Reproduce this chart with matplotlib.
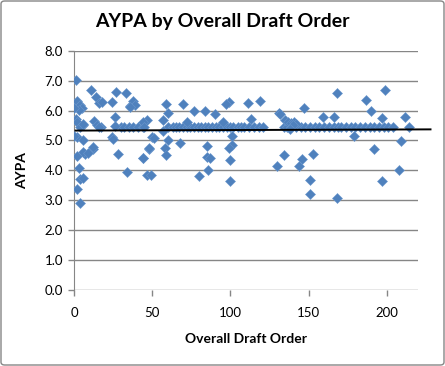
import numpy as np
import matplotlib
matplotlib.use('Agg')
from matplotlib import pyplot as plt
from matplotlib.patches import FancyBboxPatch

plt.rcParams['font.family'] = ['Lato', 'DejaVu Sans']

# scattered picks (draft order, AYPA)
pick_x = [1, 1, 2, 3, 4, 5, 1, 2, 3, 6, 4, 2, 6, 2, 7, 6, 3, 4, 6, 2, 4,
          11, 14, 16, 18, 13, 15, 17, 12, 9, 0, 0, 6, 12, 16,
          24, 27, 26, 26, 24, 25, 28, 33, 36, 38, 39, 34, 44, 48, 47, 36, 47, 50,
          59, 70, 60, 77, 84, 90, 99, 111, 119, 97, 113, 131, 95, 44, 45, 57, 72,
          57, 51, 60, 68, 48, 58, 85, 101, 44, 59, 85, 87, 86, 49, 80, 101, 99, 100,
          134, 130, 100, 168, 147, 159, 166, 179, 153, 146, 144, 151, 151, 168,
          132, 135, 137, 139, 141, 142, 140, 138,
          199, 187, 190, 197, 212, 214, 209, 192, 208, 197]
pick_y = [7.02, 6.25, 6.33, 6.15, 6.20, 6.10, 5.70, 5.62, 6.02, 5.50, 5.45, 5.13, 5.02, 4.47, 4.53, 4.60, 4.09, 3.72, 3.74, 3.39, 2.91,
          6.69, 6.44, 6.24, 6.30, 5.64, 5.52, 5.45, 4.72, 4.58, 6.10, 5.14, 5.55, 4.78, 5.44,
          6.28, 6.61, 5.80, 5.47, 5.10, 5.05, 4.53, 6.59, 6.15, 6.33, 6.20, 3.94, 4.41, 4.70, 3.83, 6.11, 5.67, 5.11,
          6.22, 6.22, 5.91, 5.98, 5.98, 5.90, 6.28, 6.24, 6.31, 6.22, 5.72, 5.91, 5.60, 5.60, 5.45, 5.67, 5.63,
          5.33, 5.08, 5.00, 4.91, 4.76, 4.76, 4.82, 5.15, 4.42, 4.50, 4.44, 4.40, 4.02, 3.83, 3.80, 4.86, 4.74, 4.33,
          4.50, 4.13, 3.64, 6.58, 6.09, 5.80, 5.80, 5.16, 4.53, 4.39, 4.13, 3.69, 3.22, 3.09,
          5.89, 5.67, 5.62, 5.58, 5.61, 5.56, 5.50, 5.39,
          6.70, 6.36, 5.98, 5.76, 5.78, 5.44, 4.98, 4.71, 4.02, 3.64]

# picks sitting at the filler value
flat_x = [30, 32, 35, 38, 41, 44,
          60, 63, 65, 67, 70, 72, 74, 77, 79, 81, 84, 86, 88, 91, 93, 95, 98, 100,
          102, 105, 107, 109, 112, 115, 118, 121,
          134, 136, 139, 142, 145, 148, 151, 154, 157, 160, 163, 166, 169,
          171, 174, 177, 180, 183, 186, 189, 192, 195, 198, 201, 204]
flat_y = [5.45, 5.44, 5.46, 5.45, 5.44, 5.45,
          5.45, 5.44, 5.46, 5.45, 5.44, 5.45, 5.46, 5.44, 5.45, 5.45, 5.44, 5.46, 5.45, 5.44, 5.45, 5.46, 5.44, 5.45,
          5.45, 5.44, 5.46, 5.45, 5.44, 5.45, 5.46, 5.44,
          5.45, 5.44, 5.46, 5.45, 5.44, 5.45, 5.45, 5.44, 5.46, 5.45, 5.44, 5.45, 5.46,
          5.45, 5.44, 5.45, 5.46, 5.45, 5.44, 5.45, 5.45, 5.46, 5.44, 5.45, 5.45]

# linear trend line ends
trend_x = [1, 228]
trend_y = [5.33, 5.37]

x_ticks = [0, 50, 100, 150, 200]
y_ticks = [0.0, 1.0, 2.0, 3.0, 4.0, 5.0, 6.0, 7.0, 8.0]

grey = '#868686'
blue = '#4F81BD'

fig = plt.figure(figsize=(4.45, 3.66), dpi=100)
ax = fig.add_axes([74/445, 76/366, 344/445, 239.3/366])

for y in y_ticks:
    ax.axhline(y, color=grey, lw=1.0, zorder=1)

ax.plot(flat_x, flat_y, 'D', ms=5.0, color=blue, mec='#6A97CC', mew=0.4, zorder=3)
ax.plot(pick_x, pick_y, 'D', ms=5.0, color=blue, mec='#6A97CC', mew=0.4, zorder=3)
ax.plot(trend_x, trend_y, color='black', lw=1.4, zorder=4, clip_on=False)

ax.set_xlim(0, 220)
ax.set_ylim(0, 8)
ax.set_xticks(x_ticks)
ax.set_yticks(y_ticks)
ax.set_yticklabels(['%.1f' % v for v in y_ticks])
ax.tick_params(axis='both', colors=grey, length=4, width=1, labelsize=9.5, labelcolor='black', pad=4)
ax.tick_params(axis='x', pad=8)
for s in ['top', 'right', 'bottom']:
    ax.spines[s].set_visible(False)
ax.spines['left'].set_color(grey)

ax.set_xlabel('Overall Draft Order', fontsize=10, fontweight='bold', labelpad=10)
ax.set_ylabel('AYPA', fontsize=10, fontweight='bold', labelpad=12)
fig.text(0.5, 1 - 22/366, 'AYPA by Overall Draft Order', ha='center', va='center',
         fontsize=14, fontweight='bold')

border = FancyBboxPatch((1/445, 1/366), 443/445, 364/366, boxstyle='round,pad=0,rounding_size=0.008',
                        transform=fig.transFigure, fill=False, ec=grey, lw=1.0)
fig.patches.append(border)

fig.savefig('out.png', dpi=100)
